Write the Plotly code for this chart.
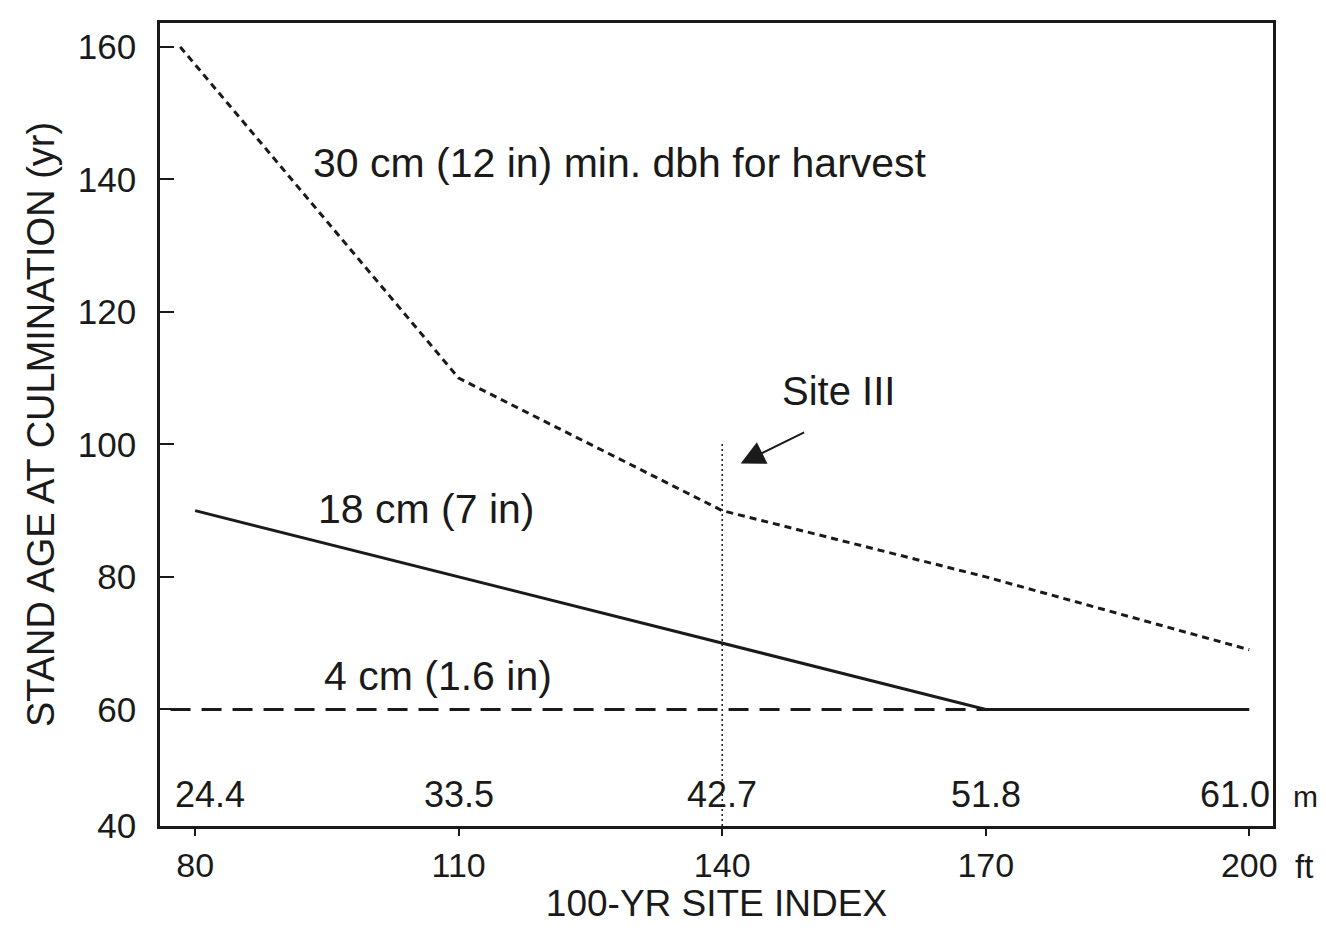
import plotly.graph_objects as go

# Data
site_index_ft = [80, 110, 140, 170, 200]
site_index_m = ["24.4", "33.5", "42.7", "51.8", "61.0"]

x_30cm = [78.3, 110, 140, 170, 200]
age_30cm = [160, 110, 90, 80, 69]

x_18cm = [80, 110, 140, 170, 200]
age_18cm = [90, 80, 70, 60, 60]

x_4cm = [77.2, 200]
age_4cm = [60, 60]

site3_x = [140, 140]
site3_y = [42.4, 100.5]

y_ticks = [42.4, 60, 80, 100, 120, 140, 160]
y_ticktext = ["40", "60", "80", "100", "120", "140", "160"]

FONT = "Liberation Sans, Arial, sans-serif"
INK = "#1a1a1a"

fig = go.Figure()
fig.add_trace(go.Scatter(x=x_30cm, y=age_30cm, mode="lines",
                         line=dict(color=INK, width=3, dash="7px,5px"),
                         showlegend=False, hoverinfo="skip"))
fig.add_trace(go.Scatter(x=x_18cm, y=age_18cm, mode="lines",
                         line=dict(color=INK, width=3),
                         showlegend=False, hoverinfo="skip"))
fig.add_trace(go.Scatter(x=x_4cm, y=age_4cm, mode="lines",
                         line=dict(color=INK, width=3, dash="20px,11px"),
                         showlegend=False, hoverinfo="skip"))
fig.add_trace(go.Scatter(x=site3_x, y=site3_y, mode="lines",
                         line=dict(color=INK, width=1.5, dash="2px,3px"),
                         showlegend=False, hoverinfo="skip"))

annotations = [
    dict(x=128.4, y=142.4, text="30 cm (12 in) min. dbh for harvest", showarrow=False,
         font=dict(size=41, color=INK, family=FONT)),
    dict(x=106.3, y=90.3, text="18 cm (7 in)", showarrow=False,
         font=dict(size=41, color=INK, family=FONT)),
    dict(x=107.6, y=65.1, text="4 cm (1.6 in)", showarrow=False,
         font=dict(size=41, color=INK, family=FONT)),
    dict(x=153.2, y=108.0, text="Site III", showarrow=False,
         font=dict(size=40, color=INK, family=FONT)),
    dict(x=142.1, y=97.1, ax=65, ay=-32, text="", showarrow=True,
         arrowhead=2, arrowsize=2.4, arrowwidth=2, arrowcolor=INK),
]
# metric tick labels inside the plot
m_shift = [15, 0, 0, 0, -14]
for xv, lab, sh in zip(site_index_ft, site_index_m, m_shift):
    annotations.append(dict(x=xv, y=0.039, yref="paper", text=lab, showarrow=False,
                            xshift=sh, yanchor="middle",
                            font=dict(size=36, color=INK, family=FONT)))
annotations.append(dict(x=1.016, y=0.037, xref="paper", yref="paper", text="m",
                        showarrow=False, xanchor="left", yanchor="middle",
                        font=dict(size=30, color=INK, family=FONT)))
annotations.append(dict(x=1.018, y=-0.05, xref="paper", yref="paper", text="ft",
                        showarrow=False, xanchor="left", yanchor="middle",
                        font=dict(size=33, color=INK, family=FONT)))

fig.update_layout(
    width=1318, height=916,
    margin=dict(l=152, r=53, t=15, b=98),
    paper_bgcolor="white", plot_bgcolor="white",
    font=dict(family=FONT, color=INK),
    annotations=annotations,
    xaxis=dict(range=[76, 202.7], tickvals=site_index_ft, automargin=False,
               ticks="outside", ticklen=7, tickwidth=1.5, tickcolor=INK,
               showline=True, linecolor=INK, linewidth=2.5, mirror=True,
               showgrid=False, zeroline=False,
               tickfont=dict(size=34, color=INK, family=FONT),
               title=dict(text="100-YR SITE INDEX", standoff=12,
                          font=dict(size=37, color=INK, family=FONT))),
    yaxis=dict(range=[42.4, 163.6], tickvals=y_ticks, ticktext=y_ticktext,
               automargin=False,
               ticks="inside", ticklen=14, tickwidth=2, tickcolor=INK,
               ticklabelstandoff=14,
               showline=True, linecolor=INK, linewidth=2.5, mirror=True,
               showgrid=False, zeroline=False,
               tickfont=dict(size=35, color=INK, family=FONT),
               title=dict(text="STAND AGE AT CULMINATION (yr)", standoff=12,
                          font=dict(size=38, color=INK, family=FONT))),
)

fig.write_html("out.html")
